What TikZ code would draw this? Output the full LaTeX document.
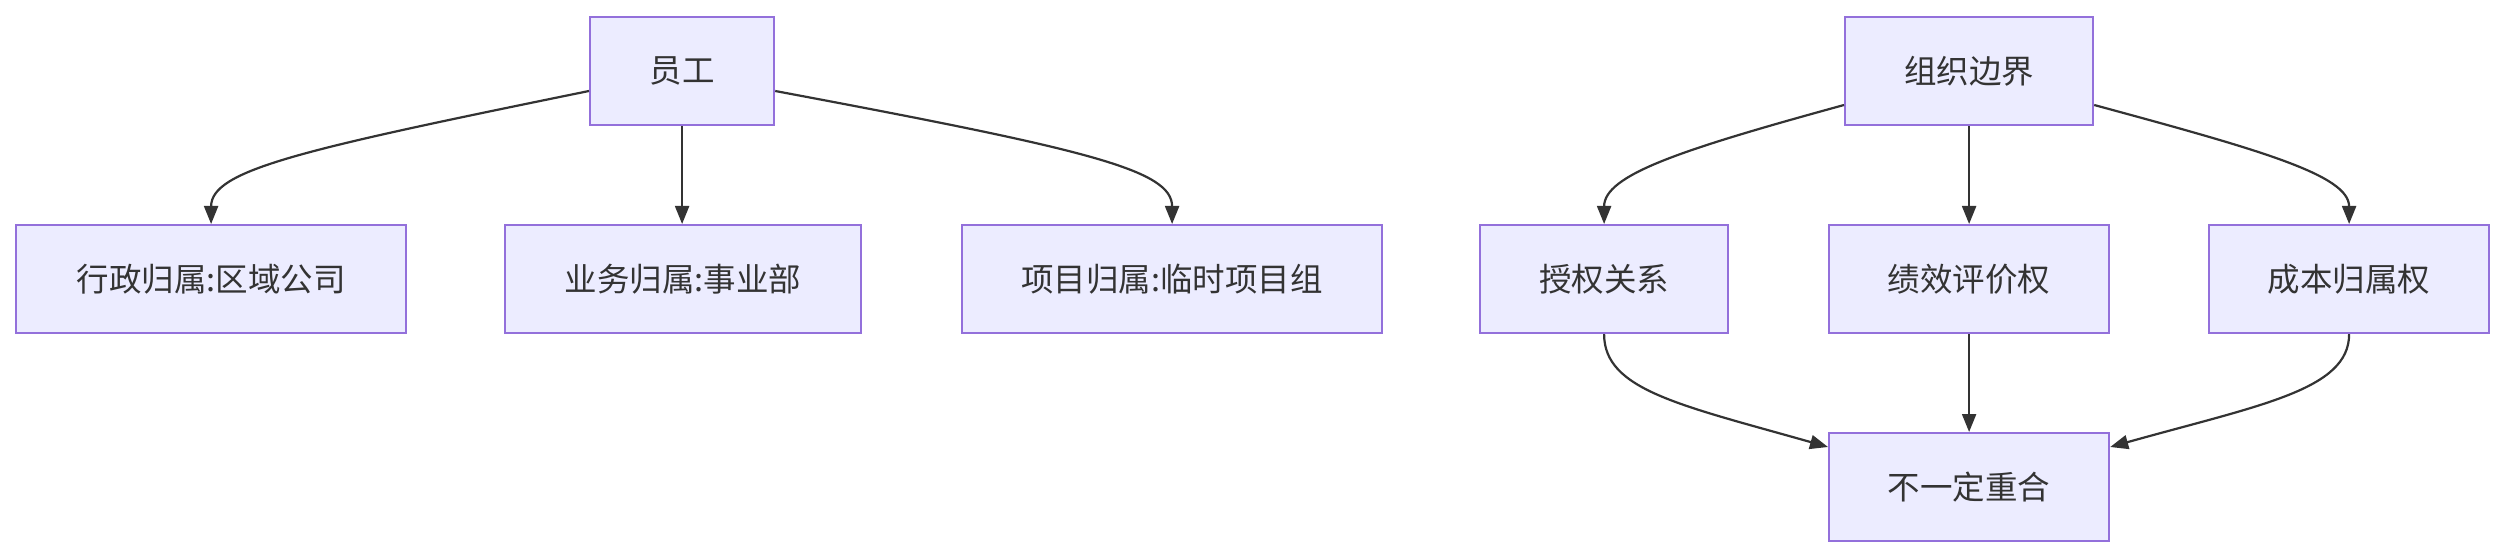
\documentclass[tikz,border=0pt]{standalone}
\usepackage{fontspec}
\setmainfont{Noto Sans CJK SC}
\usetikzlibrary{arrows.meta}
\definecolor{nodefill}{HTML}{ECECFF}
\definecolor{nodeborder}{HTML}{9370DB}
\definecolor{ink}{HTML}{333333}
\begin{document}
\begin{tikzpicture}[x=1pt,y=-1pt,
  box/.style={draw=nodeborder,fill=nodefill,line width=2.2pt,text=ink,
    font=\fontsize{32.5}{38}\selectfont,inner sep=0pt,anchor=north west},
  link/.style={draw=ink,line width=2.2pt,-{Triangle[length=18pt,width=14pt]}}]
\useasboundingbox (0,0) rectangle (2503,556);
\fill[white] (0,0) rectangle (2503,556);
% left tree
\node[box,minimum width=184pt,minimum height=108pt] (yg) at (589,16) {员工};
\node[box,minimum width=390pt,minimum height=108pt] (xz) at (15,224) {行政归属:区域公司};
\node[box,minimum width=356pt,minimum height=108pt] (yw) at (504,224) {业务归属:事业部};
\node[box,minimum width=420pt,minimum height=108pt] (xm) at (961,224) {项目归属:临时项目组};
% right tree
\node[box,minimum width=248pt,minimum height=108pt] (zz) at (1844,16) {组织边界};
\node[box,minimum width=248pt,minimum height=108pt] (sq) at (1479,224) {授权关系};
\node[box,minimum width=280pt,minimum height=108pt] (jx) at (1828,224) {绩效评价权};
\node[box,minimum width=280pt,minimum height=108pt] (cb) at (2208,224) {成本归属权};
\node[box,minimum width=280pt,minimum height=108pt] (bz) at (1828,432) {不一定重合};
% edges left
\draw[link] (yg.west|-0,91) .. controls (300,150) and (xz.north|-0,170) .. (xz.north);
\draw[link] (yg.south) -- (yg.south|-yw.north);
\draw[link] (yg.east|-0,91) .. controls (1090,150) and (xm.north|-0,170) .. (xm.north);
% edges right
\draw[link] (zz.west|-0,105) .. controls (1680,150) and (sq.north|-0,175) .. (sq.north);
\draw[link] (zz.south) -- (zz.south|-jx.north);
\draw[link] (zz.east|-0,105) .. controls (2260,150) and (cb.north|-0,175) .. (cb.north);
\draw[link] (sq.south) .. controls (sq.south|-0,390) and (1680,405) .. (bz.west|-0,447);
\draw[link] (cb.south) .. controls (cb.south|-0,390) and (2260,405) .. (bz.east|-0,447);
\draw[link] (jx.south) -- (jx.south|-bz.north);
\end{tikzpicture}
\end{document}
